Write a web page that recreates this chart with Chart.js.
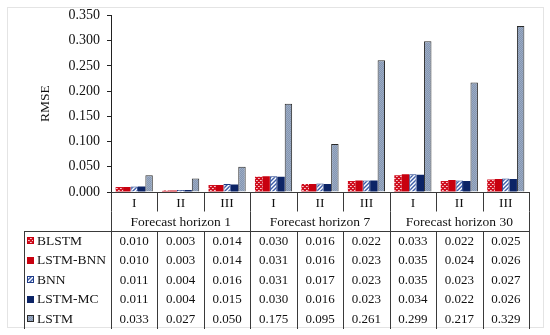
<!DOCTYPE html>
<html>
<head>
<meta charset="utf-8">
<script src="https://cdn.jsdelivr.net/npm/chart.js@4.4.0/dist/chart.umd.min.js"></script>
<style>
  body { margin: 0; background: #fff; }
  #wrap { width: 550px; height: 335px; }
</style>
</head>
<body>
<div id="wrap"><canvas id="chart" width="550" height="335"></canvas></div>
<script>
// categories / groups
var categories = ["I", "II", "III", "I", "II", "III", "I", "II", "III"];
var groups = ["Forecast horizon 1", "Forecast horizon 7", "Forecast horizon 30"];
var seriesNames = ["BLSTM", "LSTM-BNN", "BNN", "LSTM-MC", "LSTM"];

// RMSE values per model
var blstm   = [0.010, 0.003, 0.014, 0.030, 0.016, 0.022, 0.033, 0.022, 0.025];
var lstmBnn = [0.010, 0.003, 0.014, 0.031, 0.016, 0.023, 0.035, 0.024, 0.026];
var bnn     = [0.011, 0.004, 0.016, 0.031, 0.017, 0.023, 0.035, 0.023, 0.027];
var lstmMc  = [0.011, 0.004, 0.015, 0.030, 0.016, 0.023, 0.034, 0.022, 0.026];
var lstm    = [0.033, 0.027, 0.050, 0.175, 0.095, 0.261, 0.299, 0.217, 0.329];

var yTicks = [0, 0.05, 0.10, 0.15, 0.20, 0.25, 0.30, 0.35];

var FONT = "'Liberation Serif', 'Times New Roman', serif";

function makePattern(size, draw) {
    var c = document.createElement("canvas");
    c.width = size; c.height = size;
    var g = c.getContext("2d");
    draw(g);
    return document.getElementById("chart").getContext("2d").createPattern(c, "repeat");
}

var redDots = makePattern(4, function (g) {
    g.fillStyle = "#D01020"; g.fillRect(0, 0, 4, 4);
    g.fillStyle = "#F6C8CC"; g.fillRect(0, 0, 1, 1); g.fillRect(2, 2, 1, 1);
    g.fillStyle = "#EE9AA2"; g.fillRect(1, 0, 1, 1); g.fillRect(3, 2, 1, 1);
});
var blueStripes = makePattern(4, function (g) {
    g.fillStyle = "#ffffff"; g.fillRect(0, 0, 4, 4);
    g.strokeStyle = "#3A5BA8"; g.lineWidth = 1.4;
    g.beginPath();
    g.moveTo(-1, 5); g.lineTo(5, -1);
    g.moveTo(-1, 1); g.lineTo(1, -1);
    g.moveTo(3, 5); g.lineTo(5, 3);
    g.stroke();
});
var greyChecker = makePattern(2, function (g) {
    g.fillStyle = "#8496B2"; g.fillRect(0, 0, 2, 2);
    g.fillStyle = "#9DACC4"; g.fillRect(0, 0, 1, 1); g.fillRect(1, 1, 1, 1);
});

var fills = [redDots, "#C8000F", blueStripes, "#0C2466", greyChecker];
var borders = ["#C8000F", "#C8000F", "#1F3C88", "#0C2466", "#2a2a2a"];
var borderW = [0, 0, 1, 0, 1];
var values = [blstm, lstmBnn, bnn, lstmMc, lstm];

var datasets = [];
for (var s = 0; s < seriesNames.length; s++) {
    datasets.push({
        label: seriesNames[s],
        data: values[s],
        backgroundColor: fills[s],
        borderColor: borders[s],
        borderWidth: borderW[s],
        categoryPercentage: 0.8,
        barPercentage: 1.0
    });
}

var tablePlugin = {
    id: "dataTable",
    afterDraw: function (chart) {
        var ctx = chart.ctx;
        var area = chart.chartArea;
        var x = chart.scales.x;
        var n = categories.length;
        var w = (area.right - area.left) / n;
        var bottom = Math.round(area.bottom);
        var rowH = 19.5;
        var row2 = bottom + rowH;
        var tableTop = Math.round(bottom + 2 * rowH);
        var tableBottom = 329;
        var tableLeft = 24;

        ctx.save();
        // outer frame
        ctx.strokeStyle = "#e4e4e4";
        ctx.lineWidth = 1;
        ctx.strokeRect(7.5, 7.5, 536, 320);

        // x axis + table lines
        ctx.strokeStyle = "#3a3a3a";
        ctx.beginPath();
        ctx.moveTo(area.left, bottom + 0.5); ctx.lineTo(area.right, bottom + 0.5);
        for (var k = 0; k <= n; k++) {
            var xx = Math.round(area.left + k * w) + 0.5;
            ctx.moveTo(xx, bottom); ctx.lineTo(xx, row2);
            if (k % 3 === 0) { ctx.moveTo(xx, row2); ctx.lineTo(xx, tableTop); }
            ctx.moveTo(xx, tableTop); ctx.lineTo(xx, tableBottom);
        }
        ctx.moveTo(tableLeft, tableTop + 0.5); ctx.lineTo(area.right, tableTop + 0.5);
        ctx.moveTo(tableLeft + 0.5, tableTop); ctx.lineTo(tableLeft + 0.5, tableBottom);
        ctx.stroke();

        // header texts
        ctx.fillStyle = "#111";
        ctx.font = "13.5px " + FONT;
        ctx.textAlign = "center";
        ctx.textBaseline = "middle";
        for (var i = 0; i < n; i++) {
            ctx.fillText(categories[i], x.getPixelForValue(i), bottom + rowH / 2 + 1.5);
        }
        for (var gI = 0; gI < groups.length; gI++) {
            var cx = (x.getPixelForValue(gI * 3) + x.getPixelForValue(gI * 3 + 2)) / 2;
            ctx.fillText(groups[gI], cx, row2 + rowH / 2 + 1);
        }

        // data rows
        for (var r = 0; r < seriesNames.length; r++) {
            var cy = tableTop + rowH * r + rowH / 2 + 0.5;
            ctx.fillStyle = fills[r];
            ctx.fillRect(27, Math.round(cy) - 4, 7, 7);
            ctx.strokeStyle = borders[r];
            ctx.lineWidth = 1;
            ctx.strokeRect(27.5, Math.round(cy) - 3.5, 6, 6);
            ctx.fillStyle = "#111";
            ctx.textAlign = "left";
            ctx.font = "13.5px " + FONT;
            ctx.fillText(seriesNames[r], 37, cy);
            ctx.textAlign = "center";
            ctx.font = "13px " + FONT;
            for (var j = 0; j < n; j++) {
                ctx.fillText(values[r][j].toFixed(3), x.getPixelForValue(j), cy);
            }
        }

        // y axis title
        ctx.translate(45, (area.top + area.bottom) / 2);
        ctx.rotate(-Math.PI / 2);
        ctx.font = "13.5px " + FONT;
        ctx.fillText("RMSE", 0, 0);
        ctx.restore();
    }
};

new Chart(document.getElementById("chart"), {
    type: "bar",
    data: { labels: categories, datasets: datasets },
    options: {
        responsive: false,
        animation: false,
        layout: { padding: { left: 0, top: 15, right: 21, bottom: 143 } },
        plugins: {
            legend: { display: false },
            tooltip: { enabled: false }
        },
        scales: {
            x: { display: false },
            y: {
                min: 0,
                max: 0.35,
                afterFit: function (scale) { scale.width = 111; },
                afterBuildTicks: function (scale) {
                    scale.ticks = yTicks.map(function (v) { return { value: v }; });
                },
                ticks: {
                    color: "#111",
                    padding: 7,
                    font: { family: FONT, size: 14 },
                    callback: function (v) { return Number(v).toFixed(3); }
                },
                grid: { drawOnChartArea: false, drawTicks: true, tickLength: 4, color: "#222" },
                border: { display: true, color: "#222" }
            }
        }
    },
    plugins: [tablePlugin]
});
</script>
</body>
</html>
